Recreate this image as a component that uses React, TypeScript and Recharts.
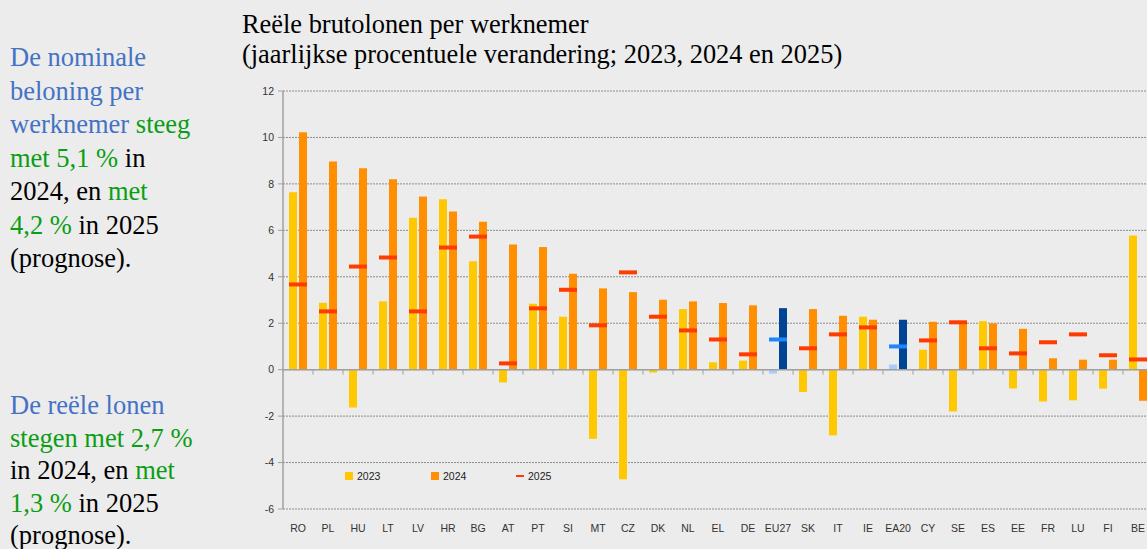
import React from 'react';
import {
  ComposedChart,
  Bar,
  Scatter,
  XAxis,
  YAxis,
  CartesianGrid,
  ReferenceLine,
  Cell,
} from 'recharts';

const countries = [
  'RO', 'PL', 'HU', 'LT', 'LV', 'HR', 'BG', 'AT', 'PT', 'SI', 'MT', 'CZ', 'DK', 'NL', 'EL',
  'DE', 'EU27', 'SK', 'IT', 'IE', 'EA20', 'CY', 'SE', 'ES', 'EE', 'FR', 'LU', 'FI', 'BE',
];
const wages2023 = [
  7.64, 2.88, -1.63, 2.94, 6.54, 7.34, 4.67, -0.55, 2.84, 2.28, -2.98, -4.72, -0.12, 2.61, 0.32,
  0.39, -0.17, -0.96, -2.83, 2.28, 0.22, 0.86, -1.8, 2.09, -0.81, -1.37, -1.32, -0.82, 5.78,
];
const wages2024 = [
  10.22, 8.96, 8.67, 8.2, 7.46, 6.81, 6.37, 5.39, 5.28, 4.13, 3.5, 3.34, 3.01, 2.94, 2.87,
  2.77, 2.65, 2.61, 2.32, 2.15, 2.15, 2.06, 2.04, 1.99, 1.76, 0.49, 0.43, 0.43, -1.34,
];
const wages2025 = [
  3.67, 2.51, 4.44, 4.83, 2.51, 5.26, 5.73, 0.27, 2.64, 3.44, 1.91, 4.19, 2.28, 1.69, 1.3,
  0.66, 1.3, 0.92, 1.52, 1.82, 1.0, 1.26, 2.04, 0.92, 0.7, 1.18, 1.52, 0.62, 0.44,
];
const aggregates = ['EU27', 'EA20'];
const yTicks = [-6, -4, -2, 0, 2, 4, 6, 8, 10, 12];

const COLORS = {
  y2023: '#ffc800',
  y2024: '#ff8f00',
  y2025: '#ff3c00',
  agg2023: '#a8cdf7',
  agg2024: '#004595',
  agg2025: '#1e86ff',
};

const data = countries.map((c, i) => ({
  country: c,
  y2023: wages2023[i],
  y2024: wages2024[i],
  y2025: wages2025[i],
  agg: aggregates.includes(c),
}));

const BLUE = '#4472c4';
const GREEN = '#0a9e14';

const FONT = '"Liberation Sans", Arial, sans-serif';
const serif = '"Liberation Serif", "Times New Roman", serif';

const Marker = (props: any) => {
  const { cx, cy, payload } = props;
  if (cx == null || cy == null) return null;
  return (
    <rect
      x={cx - 9}
      y={cy - 2}
      width={18}
      height={4}
      fill={payload && payload.agg ? COLORS.agg2025 : COLORS.y2025}
    />
  );
};

// zero line with the little category tick marks hanging below it
const ZeroAxis = (props: any) => {
  const { x1, y1, x2 } = props;
  if (x1 == null) return null;
  const step = (x2 - x1) / countries.length;
  return (
    <g>
      <line x1={x1} y1={y1} x2={x2} y2={y1} stroke="#a0a0a0" strokeWidth={1.5} />
      {countries.map((_, i) => (
        <line
          key={i}
          x1={x1 + step * (i + 1)}
          x2={x1 + step * (i + 1)}
          y1={y1}
          y2={y1 + 5}
          stroke="#a0a0a0"
        />
      ))}
    </g>
  );
};

const CountryTick = (props: any) => {
  const { x, y, payload } = props;
  return (
    <text x={x} y={y + 21} textAnchor="middle" fontSize={10.5} fontFamily={FONT} fill="#333">
      {payload.value}
    </text>
  );
};

const LegendBox = () => (
  <div
    style={{
      position: 'absolute',
      left: 345,
      top: 470,
      display: 'flex',
      fontFamily: FONT,
      fontSize: 10.5,
      color: '#222',
      alignItems: 'center',
    }}
  >
    <div style={{ display: 'flex', alignItems: 'center', width: 86 }}>
      <span style={{ width: 8, height: 8, background: COLORS.y2023, marginRight: 4 }} />
      2023
    </div>
    <div style={{ display: 'flex', alignItems: 'center', width: 85 }}>
      <span style={{ width: 8, height: 8, background: COLORS.y2024, marginRight: 4 }} />
      2024
    </div>
    <div style={{ display: 'flex', alignItems: 'center' }}>
      <span style={{ width: 8, height: 2, background: COLORS.y2025, marginRight: 4 }} />
      2025
    </div>
  </div>
);

const sideText: React.CSSProperties = {
  position: 'absolute',
  left: 10,
  fontFamily: serif,
  fontSize: 26.5,
  color: '#000',
  whiteSpace: 'nowrap',
};

export default function App() {
  return (
    <div
      style={{
        position: 'fixed',
        left: 0,
        top: 0,
        width: 1147,
        height: 549,
        background: '#ececec',
        overflow: 'hidden',
      }}
    >
      <div style={{ ...sideText, top: 41, lineHeight: '33.5px' }}>
        <span style={{ color: BLUE }}>De nominale</span>
        <br />
        <span style={{ color: BLUE }}>beloning per</span>
        <br />
        <span style={{ color: BLUE }}>werknemer</span> <span style={{ color: GREEN }}>steeg</span>
        <br />
        <span style={{ color: GREEN }}>met 5,1 %</span> in
        <br />
        2024, en <span style={{ color: GREEN }}>met</span>
        <br />
        <span style={{ color: GREEN }}>4,2 %</span> in 2025
        <br />
        (prognose).
      </div>
      <div style={{ ...sideText, top: 389, lineHeight: '32.5px' }}>
        <span style={{ color: BLUE }}>De reële lonen</span>
        <br />
        <span style={{ color: GREEN }}>stegen met 2,7 %</span>
        <br />
        in 2024, en <span style={{ color: GREEN }}>met</span>
        <br />
        <span style={{ color: GREEN }}>1,3 %</span> in 2025
        <br />
        (prognose).
      </div>
      <div
        style={{
          position: 'absolute',
          left: 242,
          top: 9,
          fontFamily: serif,
          fontSize: 26.4,
          lineHeight: '30px',
          color: '#000',
          whiteSpace: 'nowrap',
        }}
      >
        Reële brutolonen per werknemer
        <br />
        (jaarlijkse procentuele verandering; 2023, 2024 en 2025)
      </div>
      <div style={{ position: 'absolute', left: 0, top: 0 }}>
        <ComposedChart
          width={1160}
          height={549}
          data={data}
          margin={{ top: 91, right: 7, bottom: 10, left: 253 }}
          barSize={8}
          barGap={2}
        >
          <CartesianGrid horizontal vertical={false} stroke="#8c8c8c" strokeDasharray="2 1" />
          <XAxis
            dataKey="country"
            interval={0}
            axisLine={false}
            tickLine={false}
            tickSize={0}
            height={30}
            tick={<CountryTick />}
          />
          <YAxis
            domain={[-6, 12]}
            ticks={yTicks}
            width={30}
            tickSize={5}
            tickMargin={4}
            axisLine={{ stroke: '#a0a0a0', strokeWidth: 1.5 }}
            tickLine={{ stroke: '#a0a0a0' }}
            tick={{ fontSize: 10.5, fontFamily: FONT, fill: '#333' }}
          />
          <Bar dataKey="y2023" fill={COLORS.y2023} isAnimationActive={false}>
            {data.map((d, i) => (
              <Cell key={`a-${i}`} fill={d.agg ? COLORS.agg2023 : COLORS.y2023} />
            ))}
          </Bar>
          <Bar dataKey="y2024" fill={COLORS.y2024} isAnimationActive={false}>
            {data.map((d, i) => (
              <Cell key={`b-${i}`} fill={d.agg ? COLORS.agg2024 : COLORS.y2024} />
            ))}
          </Bar>
          <ReferenceLine y={0} shape={<ZeroAxis />} />
          <Scatter dataKey="y2025" shape={<Marker />} isAnimationActive={false} />
        </ComposedChart>
      </div>
      <LegendBox />
    </div>
  );
}
